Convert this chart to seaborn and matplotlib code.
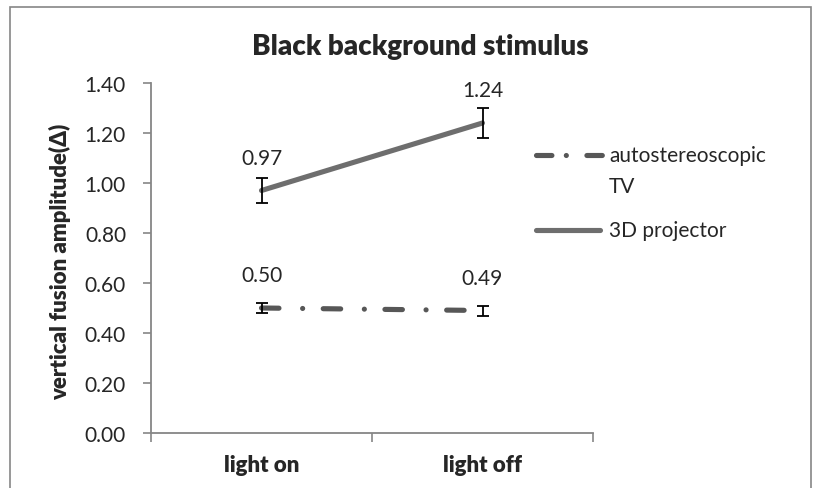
import matplotlib
matplotlib.use("Agg")
import matplotlib.pyplot as plt
import seaborn as sns
import pandas as pd
from matplotlib.patches import Rectangle
from matplotlib.lines import Line2D

conditions = ["light on", "light off"]
series_names = ["autostereoscopic\nTV", "3D projector"]
tv_values = [0.50, 0.49]
tv_err = [0.02, 0.02]
proj_values = [0.97, 1.24]
proj_err = [0.05, 0.06]
y_ticks = [0.00, 0.20, 0.40, 0.60, 0.80, 1.00, 1.20, 1.40]

sns.set_theme(style="white")
plt.rcParams["font.family"] = ["Lato", "DejaVu Sans"]

W, H = 816, 489
df = pd.DataFrame({
    "condition": conditions * 2,
    "series": [series_names[0]] * 2 + [series_names[1]] * 2,
    "value": tv_values + proj_values,
})

fig = plt.figure(figsize=(W / 100, H / 100), dpi=100)
ax = fig.add_axes([151 / W, 1 - 434 / H, (593 - 151) / W, (434 - 84) / H])

tv_color, proj_color = "#575757", "#6e6e6e"
tv_dash = (3.4, 4.6, 0.01, 4.0)
palette = {series_names[0]: tv_color, series_names[1]: proj_color}
dashes = {series_names[0]: tv_dash, series_names[1]: ""}
sns.lineplot(data=df, x="condition", y="value", hue="series", style="series",
             palette=palette, dashes=dashes, linewidth=3.7, sort=False,
             ax=ax, legend=False)
for ln in ax.lines:
    ln.set_dash_capstyle("round")
    ln.set_solid_capstyle("round")

xs = list(range(len(conditions)))
ax.errorbar(xs, tv_values, yerr=tv_err, fmt="none", ecolor="black", elinewidth=1.3, capsize=4.3, capthick=1.3, zorder=5)
ax.errorbar(xs, proj_values, yerr=proj_err, fmt="none", ecolor="black", elinewidth=1.3, capsize=4.3, capthick=1.3, zorder=5)

for vals in (tv_values, proj_values):
    for x, v in zip(xs, vals):
        ax.annotate(f"{v:.2f}", (x, v), xytext=(0, 23.5), textcoords="offset points",
                    ha="center", va="center", fontsize=15)

ax.set_xlim(-0.5, 1.5)
ax.set_ylim(0, 1.4)
ax.set_yticks(y_ticks)
ax.set_yticklabels([f"{t:.2f}" for t in y_ticks], fontsize=15)
ax.set_xticks(xs)
ax.set_xticklabels(conditions, fontsize=16, fontweight="heavy")
ax.set_xticks([-0.5, 0.5, 1.5], minor=True)
ax.tick_params(axis="x", which="major", length=0, pad=15)
ax.tick_params(axis="x", which="minor", length=6.5, width=1.2, color="#868686", direction="out", bottom=True)
ax.tick_params(axis="y", which="major", length=6, width=1.2, color="#868686", direction="out", left=True, pad=12)
ax.set_xlabel("")
ax.set_ylabel("")
for s in ["top", "right"]:
    ax.spines[s].set_visible(False)
for s in ["left", "bottom"]:
    ax.spines[s].set_color("#868686")
    ax.spines[s].set_linewidth(1.3)

fig.text(60 / W, 1 - 262 / H, "vertical fusion amplitude(\u0394)", rotation=90,
         ha="center", va="center", fontsize=16, fontweight="heavy")

fig.text(420 / W, 1 - 47 / H, "Black background stimulus", ha="center", va="center",
         fontsize=20, fontweight="heavy")

# legend (drawn manually to mimic the original layout)
fig.add_artist(Line2D([536 / W, 603 / W], [1 - 156 / H, 1 - 156 / H], transform=fig.transFigure,
                      color=tv_color, lw=3.7, dashes=(3.0, 2.8, 0.01, 4.0), dash_capstyle="round"))
fig.add_artist(Line2D([536 / W, 600 / W], [1 - 231 / H, 1 - 231 / H], transform=fig.transFigure,
                      color=proj_color, lw=3.7, solid_capstyle="round"))
fig.text(609 / W, 1 - 156 / H, "autostereoscopic", ha="left", va="center", fontsize=15)
fig.text(609 / W, 1 - 187 / H, "TV", ha="left", va="center", fontsize=15)
fig.text(609 / W, 1 - 231 / H, "3D projector", ha="left", va="center", fontsize=15)

fig.patches.append(Rectangle((10 / W, -0.01), 801 / W, 1 - 8 / H + 0.01,
                             transform=fig.transFigure, fill=False, edgecolor="#868686", lw=1.2))

fig.savefig("out.png", dpi=100)
